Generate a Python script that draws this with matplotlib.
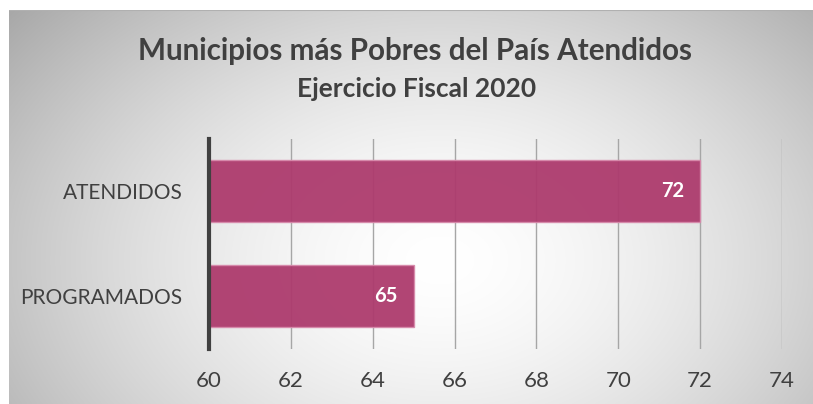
import numpy as np
import matplotlib.pyplot as plt

categories = ["PROGRAMADOS", "ATENDIDOS"]
values = [65, 72]
x_ticks = [60, 62, 64, 66, 68, 70, 72, 74]

title = "Municipios más Pobres del País Atendidos"
subtitle = "Ejercicio Fiscal 2020"

W, H = 813, 404
fig = plt.figure(figsize=(W / 100, H / 100), dpi=100)
fig.patch.set_facecolor("white")
plt.rcParams["font.family"] = ["Lato", "DejaVu Sans"]

# gradient panel behind the chart
bg = fig.add_axes([9 / W, 0, 1 - 9 / W, 1 - 10 / H])
bg.set_axis_off()
yy, xx = np.mgrid[0:394, 0:804]
cx, cy = 430, 250
d = np.sqrt(((xx - cx) / 470.0) ** 2 + ((yy - cy) / 330.0) ** 2)
shade = 1.0 - 0.26 * np.clip(d, 0, 1.2) ** 1.6
bg.imshow(np.dstack([shade] * 3), aspect="auto", extent=[0, 1, 0, 1], origin="upper")
bg.axhline(1, color="#b0b0b0", lw=1.5)

ax = fig.add_axes([209 / W, 1 - 348.5 / H, (782 - 209) / W, (348.5 - 138.5) / H])
ax.patch.set_alpha(0)
ypos = np.arange(len(categories))
bars = ax.barh(ypos, [v - x_ticks[0] for v in values], left=x_ticks[0], height=0.59,
               color="#ad3b6d", alpha=0.95, edgecolor="#d78aab", linewidth=1, zorder=3)
for b, v in zip(bars, values):
    ax.text(b.get_x() + b.get_width() - 0.4, b.get_y() + b.get_height() / 2, str(v),
            ha="right", va="center", color="white", fontsize=14.5, fontweight="bold",
            zorder=4)

ax.set_xlim(x_ticks[0], x_ticks[-1])
ax.set_ylim(-0.5, 1.5)
ax.set_xticks(x_ticks)
ax.set_yticks(ypos)
ax.set_yticklabels(categories)
ax.grid(axis="x", color="#a6a6a6", lw=1, zorder=1)
ax.tick_params(length=0, labelsize=15, labelcolor="#404040")
ax.tick_params(axis="x", pad=16, labelsize=16)
ax.tick_params(axis="y", pad=19)
for s in ["top", "right", "bottom"]:
    ax.spines[s].set_visible(False)
ax.spines["left"].set_color("#404040")
ax.spines["left"].set_linewidth(3)
ax.spines["left"].set_zorder(5)

fig.text(415 / W, 1 - 51 / H, title, ha="center", va="center", fontsize=21.3,
         fontweight="bold", color="#404040")
fig.text(417 / W, 1 - 89 / H, subtitle, ha="center", va="center", fontsize=19,
         fontweight="bold", color="#404040")

fig.savefig("out.png", dpi=100)
